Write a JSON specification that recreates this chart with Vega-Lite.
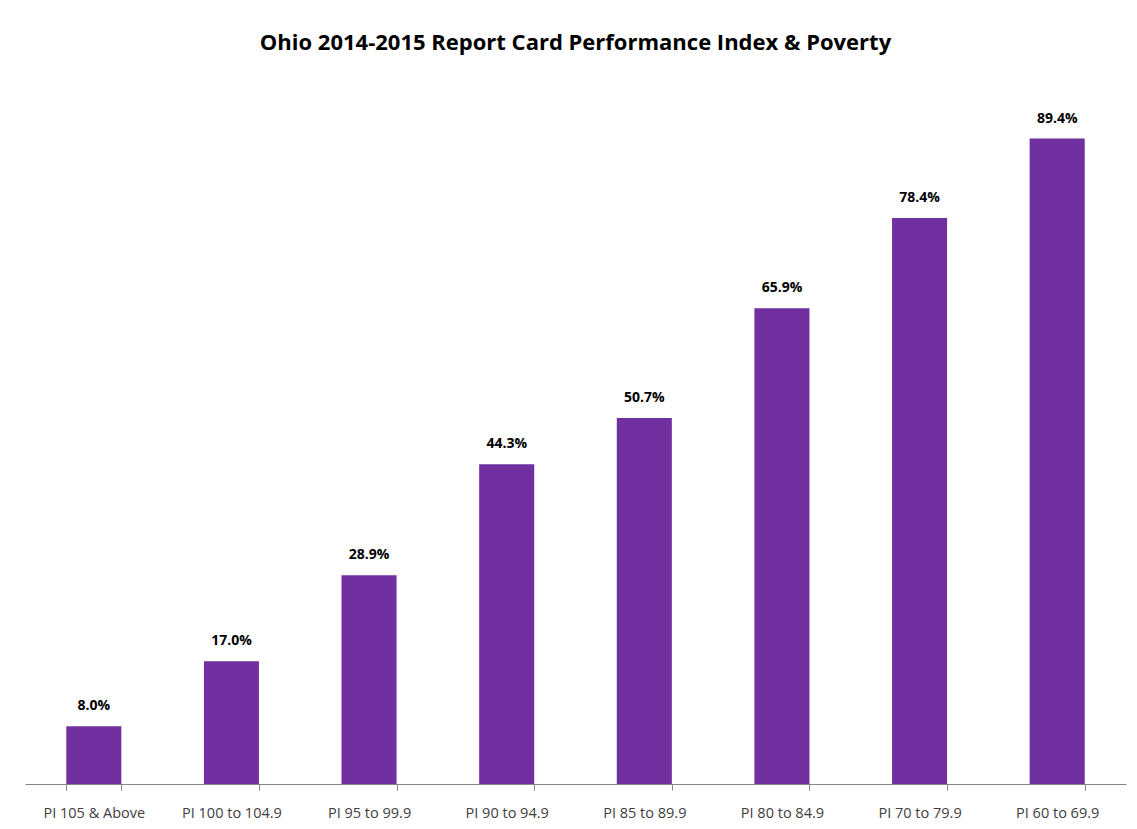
{
  "$schema": "https://vega.github.io/schema/vega-lite/v6.json",
  "autosize": "none",
  "padding": {"left": 25, "top": 62, "right": 11, "bottom": 45},
  "width": 1101,
  "height": 722,
  "background": "white",
  "config": {"view": {"stroke": null}},
  "title": {
    "text": "Ohio 2014-2015 Report Card Performance Index & Poverty",
    "font": "Open Sans",
    "fontSize": 22,
    "fontWeight": "bold",
    "color": "#000000",
    "anchor": "middle",
    "offset": 7
  },
  "data": {
    "values": [
      {"category": "PI 105 & Above", "pct": 0.080},
      {"category": "PI 100 to 104.9", "pct": 0.170},
      {"category": "PI 95 to 99.9", "pct": 0.289},
      {"category": "PI 90 to 94.9", "pct": 0.443},
      {"category": "PI 85 to 89.9", "pct": 0.507},
      {"category": "PI 80 to 84.9", "pct": 0.659},
      {"category": "PI 70 to 79.9", "pct": 0.784},
      {"category": "PI 60 to  69.9", "pct": 0.894}
    ]
  },
  "encoding": {
    "x": {
      "field": "category",
      "type": "nominal",
      "sort": null,
      "scale": {"paddingInner": 0.6, "paddingOuter": 0.3},
      "axis": {
        "title": null,
        "labelAngle": 0,
        "labelFont": "Open Sans",
        "labelFontSize": 14.5,
        "labelColor": "#404040",
        "labelPadding": 16,
        "domainColor": "#868686",
        "tickColor": "#868686",
        "tickSize": 6,
        "tickBand": "extent",
        "grid": false
      }
    },
    "y": {
      "field": "pct",
      "type": "quantitative",
      "scale": {"domain": [0, 1]},
      "axis": null
    }
  },
  "layer": [
    {"mark": {"type": "bar", "color": "#7030A0"}},
    {
      "mark": {"type": "text", "baseline": "bottom", "dy": -13, "font": "Open Sans", "fontWeight": "bold", "fontSize": 14, "color": "#000000"},
      "encoding": {"text": {"field": "pct", "type": "quantitative", "format": ".1%"}}
    }
  ]
}
